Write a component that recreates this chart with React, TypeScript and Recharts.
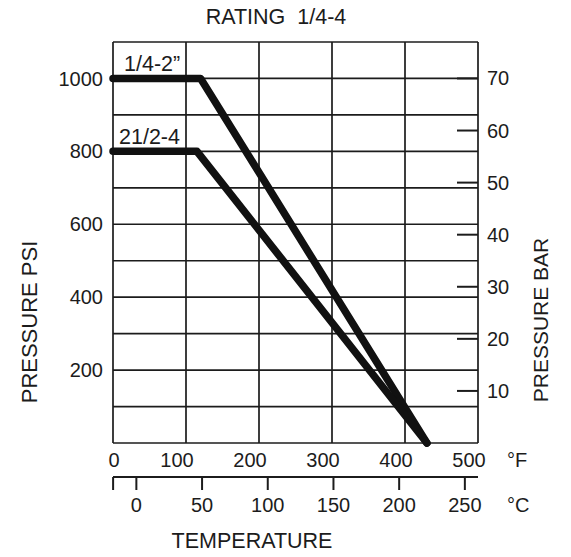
import React from "react";
import { CartesianGrid, LabelList, Line, LineChart, XAxis, YAxis } from "recharts";

// temperature axes
const tempTicksF = [0, 100, 200, 300, 400, 500];
const tempTicksC = [-17.7, 0, 50, 100, 150, 200, 250];

// pressure axes
const psiGrid = [0, 100, 200, 300, 400, 500, 600, 700, 800, 900, 1000, 1100];
const psiLabels = [200, 400, 600, 800, 1000];
const barTicks = [10, 20, 30, 40, 50, 60, 70];

// rating curves
const smallTempF = [0, 120, 430];
const smallPsi = [1000, 1000, 0];
const largeTempF = [0, 115, 430];
const largePsi = [800, 800, 0];
const seriesNames = ["1/4-2\u201d", "21/2-4"];

const ink = "#1c1c1c";
const font = "'Liberation Sans', Arial, sans-serif";

const toPoints = (temps: number[], psi: number[]) =>
  temps.map((t, i) => ({ f: t, psi: psi[i] }));

// empty carrier so the °C axis has something bound to it
const celsiusCarrier = tempTicksC.map((c) => ({ c, psi: null }));

const FTick = (props: any) => {
  const { x, y, payload } = props;
  const shift = payload.value === 0 ? 1 : -9;
  return (
    <text x={x + shift} y={y} dy="0.71em" textAnchor="middle" fontSize={20} fill={ink} fontFamily={font}>
      {payload.value}
    </text>
  );
};

const CTick = (props: any) => {
  const { x, y, payload } = props;
  return (
    <g>
      <line x1={x} x2={x} y1={y - 21} y2={y - 8} stroke={ink} strokeWidth={2} />
      {payload.value >= 0 && (
        <text x={x} y={y} dy="0.71em" textAnchor="middle" fontSize={20} fill={ink} fontFamily={font}>
          {payload.value}
        </text>
      )}
    </g>
  );
};

const BarTick = (props: any) => {
  const { x, y, payload } = props;
  return (
    <g>
      <line x1={x - 30} x2={x - 9} y1={y} y2={y} stroke={ink} strokeWidth={2} />
      <text x={x} y={y} dy="0.35em" textAnchor="start" fontSize={20} fill={ink} fontFamily={font}>
        {payload.value}
      </text>
    </g>
  );
};

const firstLabel = (name: string, dx: number) => (props: any) => {
  const { x, y, index } = props;
  if (index !== 0) return null;
  return (
    <text x={x + dx} y={y - 7} fontSize={21.5} fill={ink} fontFamily={font}>
      {name}
    </text>
  );
};

const App = () => {
  return (
    <div style={{ width: 563, height: 557, marginTop: -8, fontFamily: font }}>
      <LineChart width={563} height={557} margin={{ top: 42, right: 0, bottom: 40, left: 0 }}>
        <CartesianGrid xAxisId="primary" yAxisId="psi" stroke={ink} strokeWidth={1.7} />
        <XAxis
          xAxisId="primary"
          type="number"
          dataKey="f"
          domain={[0, 500]}
          ticks={tempTicksF}
          height={34}
          axisLine={false}
          tickLine={false}
          tickSize={0}
          tickMargin={10}
          tick={<FTick />}
        />
        <XAxis
          xAxisId="secondary"
          type="number"
          dataKey="c"
          domain={[-17.78, 260]}
          allowDataOverflow
          ticks={tempTicksC}
          interval={0}
          height={40}
          axisLine={{ stroke: ink, strokeWidth: 2 }}
          tickLine={false}
          tickSize={13}
          tickMargin={8}
          tick={<CTick />}
        />
        <YAxis
          yAxisId="psi"
          type="number"
          domain={[0, 1100]}
          ticks={psiGrid}
          width={105}
          axisLine={false}
          tickLine={false}
          tickSize={0}
          tickMargin={10}
          interval={0}
          tickFormatter={(v: number) => (psiLabels.includes(v) ? String(v) : "")}
          tick={{ fontSize: 20, fill: ink, fontFamily: font }}
        />
        <YAxis
          yAxisId="bar"
          orientation="right"
          type="number"
          domain={[0, 77]}
          allowDataOverflow
          ticks={barTicks}
          width={93}
          axisLine={false}
          tickLine={false}
          tickSize={0}
          tickMargin={9}
          interval={0}
          tick={<BarTick />}
        />
        <Line
          xAxisId="secondary"
          yAxisId="psi"
          data={celsiusCarrier}
          dataKey="psi"
          stroke="none"
          dot={false}
          activeDot={false}
          legendType="none"
          isAnimationActive={false}
        />
        <Line
          xAxisId="primary"
          yAxisId="psi"
          data={toPoints(smallTempF, smallPsi)}
          dataKey="psi"
          stroke="#111"
          strokeWidth={7.5}
          strokeLinecap="round"
          strokeLinejoin="round"
          dot={false}
          isAnimationActive={false}
        >
          <LabelList dataKey="psi" content={firstLabel(seriesNames[0], 11)} />
        </Line>
        <Line
          xAxisId="primary"
          yAxisId="psi"
          data={toPoints(largeTempF, largePsi)}
          dataKey="psi"
          stroke="#111"
          strokeWidth={7.5}
          strokeLinecap="round"
          strokeLinejoin="round"
          dot={false}
          isAnimationActive={false}
        >
          <LabelList dataKey="psi" content={firstLabel(seriesNames[1], 6)} />
        </Line>
        <text x={268} y={24} textAnchor="middle" fontSize={21.5} fill={ink} fontFamily={font}>
          RATING&#160;&#160;1/4-4
        </text>
        <text
          x={21}
          y={322}
          transform="rotate(-90 21 322)"
          textAnchor="middle"
          dominantBaseline="central"
          fontSize={22}
          fill={ink}
          fontFamily={font}
        >
          PRESSURE PSI
        </text>
        <text
          x={532}
          y={320}
          transform="rotate(-90 532 320)"
          textAnchor="middle"
          dominantBaseline="central"
          fontSize={21}
          fill={ink}
          fontFamily={font}
        >
          PRESSURE BAR
        </text>
        <text x={499} y={460} dominantBaseline="central" fontSize={20} fill={ink} fontFamily={font}>
          °F
        </text>
        <text x={499} y={505} dominantBaseline="central" fontSize={20} fill={ink} fontFamily={font}>
          °C
        </text>
        <text x={244} y={541} textAnchor="middle" dominantBaseline="central" fontSize={21.5} fill={ink} fontFamily={font}>
          TEMPERATURE
        </text>
      </LineChart>
    </div>
  );
};

export default App;
